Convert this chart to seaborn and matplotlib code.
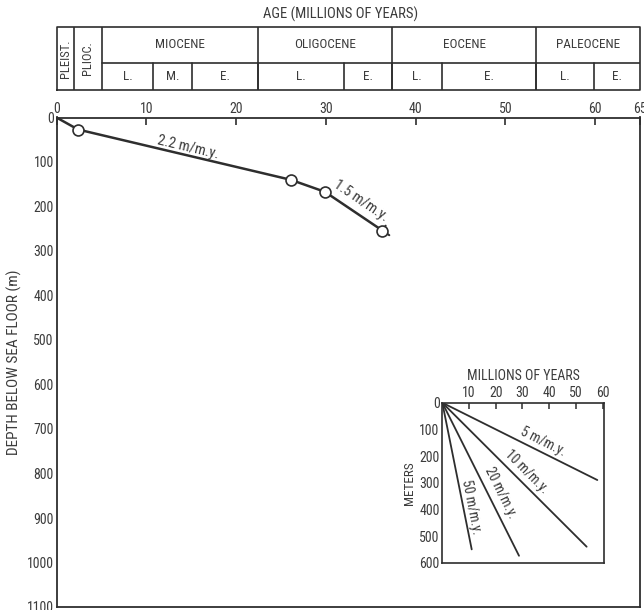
import matplotlib
matplotlib.use("Agg")
import matplotlib.pyplot as plt
from matplotlib import font_manager as fm
import seaborn as sns
import pandas as pd
import numpy as np

# ---------------- data ----------------
site_age = [0.0, 2.4, 26.1, 29.9, 36.3]          # m.y.
site_depth = [0, 27, 140, 167, 254]             # m below sea floor
rate_labels = ["2.2 m/m.y.", "1.5 m/m.y."]

x_ticks = [0, 10, 20, 30, 40, 50, 60, 65]
y_ticks = [0, 100, 200, 300, 400, 500, 600, 700, 800, 900, 1000, 1100]

epoch_bounds = [0, 1.9, 5.1, 22.5, 37.4, 53.4, 65]
epoch_names = ["PLEIST.", "PLIOC.", "MIOCENE", "OLIGOCENE", "EOCENE", "PALEOCENE"]
sub_bounds = [5.1, 10.7, 15.1, 22.5, 32.0, 37.4, 42.9, 53.4, 59.9, 65]
sub_names = ["L.", "M.", "E.", "L.", "E.", "L.", "E.", "L.", "E."]

ref_rates = [5, 10, 20, 50]                      # m/m.y.
ref_end_age = [58.0, 54.0, 28.7, 11.0]           # m.y. where each reference line ends
ref_labels = ["5 m/m.y.", "10 m/m.y.", "20 m/m.y.", "50 m/m.y."]
inset_x_ticks = [10, 20, 30, 40, 50, 60]
inset_y_ticks = [0, 100, 200, 300, 400, 500, 600]

# ---------------- style ----------------
sns.set_theme(style="white")
avail = {f.name for f in fm.fontManager.ttflist}
fams = [f for f in ["Roboto Condensed", "Liberation Sans Narrow", "DejaVu Sans Condensed"]
        if f in avail] + ["DejaVu Sans"]
plt.rcParams["font.family"] = fams
INK = "#2e2e2e"
TXT = "#3c3c3c"
plt.rcParams["text.color"] = TXT
plt.rcParams["axes.labelcolor"] = TXT
plt.rcParams["xtick.color"] = INK
plt.rcParams["ytick.color"] = INK

W, H = 644, 610
fig = plt.figure(figsize=(W / 100, H / 100), dpi=100)
fig.patch.set_facecolor("white")

def px_axes(x0, y0, x1, y1):
    return fig.add_axes([x0 / W, 1 - y1 / H, (x1 - x0) / W, (y1 - y0) / H])

def line_label(axis, p0, p1, frac, text, off_pt, fs):
    """Place text along segment p0->p1 (data coords), offset perpendicular (upper-right)."""
    d0 = axis.transData.transform(p0)
    d1 = axis.transData.transform(p1)
    dx, dy = d1 - d0
    ang = np.degrees(np.arctan2(dy, dx))
    n = np.array([-dy, dx]) / np.hypot(dx, dy)
    x = p0[0] + frac * (p1[0] - p0[0])
    y = p0[1] + frac * (p1[1] - p0[1])
    axis.annotate(text, xy=(x, y), xytext=(n[0] * off_pt, n[1] * off_pt),
                  textcoords="offset points", rotation=ang, rotation_mode="anchor",
                  ha="center", va="center", fontsize=fs)

# ---------------- main axes ----------------
ax = px_axes(56.5, 117.5, 640, 607)
df = pd.DataFrame({"age": site_age, "depth": site_depth})
sns.lineplot(data=df, x="age", y="depth", sort=False, ax=ax, color=INK, lw=1.8,
             estimator=None)
sns.scatterplot(data=df.iloc[1:], x="age", y="depth", ax=ax, s=62, facecolor="white",
                edgecolor=INK, linewidth=1.2, zorder=5)
ax.set_xlim(0, 65)
ax.set_ylim(1100, 0)
ax.xaxis.tick_top()
ax.set_xticks(x_ticks)
ax.set_yticks(y_ticks)
ax.tick_params(axis="both", direction="in", length=5, width=1.2, labelsize=10, pad=2,
               labelcolor=TXT)
ax.tick_params(axis="x", pad=1)
ax.set_xlabel("")
ax.set_ylabel("DEPTH BELOW SEA FLOOR (m)", fontsize=11)
ax.yaxis.set_label_coords(-(56.5 - 22) / (640 - 56.5), 0.5)
for s in ax.spines.values():
    s.set_color(INK)
    s.set_linewidth(1.3)

line_label(ax, (site_age[1], site_depth[1]), (site_age[2], site_depth[2]), 0.51,
           rate_labels[0], 6, 10.5)
line_label(ax, (site_age[3], site_depth[3]), (site_age[4], site_depth[4]), 0.5,
           rate_labels[1], 9.5, 10.5)

# short end bar beyond the deepest point
dl = ax.transData.transform((site_age[-1], site_depth[-1])) - \
     ax.transData.transform((site_age[-2], site_depth[-2]))
dl = dl / np.hypot(*dl)
ax.annotate("", xy=(site_age[-1], site_depth[-1]), xytext=(dl[0] * 6, dl[1] * 6),
            textcoords="offset points",
            arrowprops=dict(arrowstyle="-[, widthB=0.35, lengthB=0", color=INK, lw=1.5,
                            shrinkA=0, shrinkB=0))

# ---------------- header (time scale) ----------------
hx = px_axes(56.5, 27, 640, 90)
hx.set_xlim(0, 65)
hx.set_ylim(0, 63)
hx.axis("off")
lw_h = 1.2
hx.plot([0, 65, 65, 0, 0], [0, 0, 63, 63, 0], color=INK, lw=lw_h, clip_on=False)
hx.plot([epoch_bounds[2], 65], [27, 27], color=INK, lw=lw_h)
for b in epoch_bounds[1:-1]:
    hx.plot([b, b], [0, 63], color=INK, lw=lw_h)
for b in sub_bounds[1:-1]:
    hx.plot([b, b], [0, 27], color=INK, lw=lw_h)
for i, name in enumerate(epoch_names):
    xc = (epoch_bounds[i] + epoch_bounds[i + 1]) / 2
    if i < 2:
        hx.text(xc, 31.5, name, rotation=90, ha="center", va="center", fontsize=9)
    else:
        hx.text(xc, 45, name, ha="center", va="center", fontsize=9.5)
for i, name in enumerate(sub_names):
    xc = (sub_bounds[i] + sub_bounds[i + 1]) / 2
    hx.text(xc, 13.5, name, ha="center", va="center", fontsize=9.5)
fig.text(341 / W, 1 - 14 / H, "AGE (MILLIONS OF YEARS)", ha="center", va="center",
         fontsize=10.5, color=TXT)

# ---------------- inset (reference rates) ----------------
ix = px_axes(442.3, 402.7, 604, 562.7)
for rate, end in zip(ref_rates, ref_end_age):
    d = pd.DataFrame({"t": [0, end], "z": [0, rate * end]})
    sns.lineplot(data=d, x="t", y="z", ax=ix, color=INK, lw=1.3, estimator=None)
ix.set_xlim(0, 60.5)
ix.set_ylim(600, 0)
ix.xaxis.tick_top()
ix.xaxis.set_label_position("top")
ix.set_xticks(inset_x_ticks)
ix.set_yticks(inset_y_ticks)
ix.tick_params(axis="both", direction="in", length=4, width=1.1, labelsize=10, pad=2,
               labelcolor=TXT)
ix.set_xlabel("MILLIONS OF YEARS", fontsize=10, labelpad=4)
ix.set_ylabel("METERS", fontsize=9.5, labelpad=2)
for s in ix.spines.values():
    s.set_color(INK)
    s.set_linewidth(1.2)

label_frac = [0.62, 0.53, 0.62, 0.72]
label_off = [7, 7.5, 8.5, 6]
for rate, end, lab, fr, off in zip(ref_rates, ref_end_age, ref_labels, label_frac, label_off):
    line_label(ix, (0, 0), (end, rate * end), fr, lab, off, 10)

fig.savefig("out.png", dpi=100, facecolor="white")
